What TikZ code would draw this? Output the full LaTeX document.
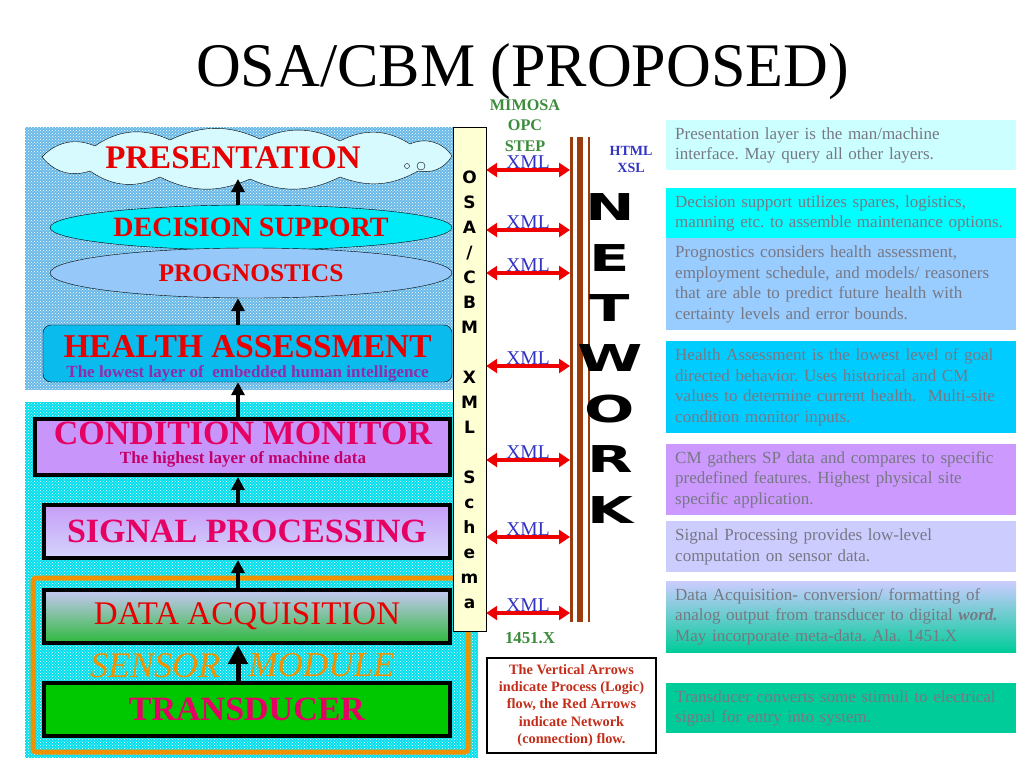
\documentclass[tikz,border=0pt]{standalone}
\usepackage{fontspec}
\setmainfont{Liberation Serif}
\newfontfamily\heavyfont{DejaVu Sans}
\usetikzlibrary{shapes.geometric,arrows.meta,patterns}
\frenchspacing
\newcommand{\fsz}[2]{\fontsize{#1}{#2}\selectfont}
\newcommand{\wideletter}[1]{\scalebox{1.6}[1]{#1}}
\definecolor{panelblue}{RGB}{105,185,232}
\definecolor{panelcyan}{RGB}{0,222,236}
\definecolor{cloudfill}{RGB}{215,250,255}
\definecolor{dsfill}{RGB}{0,235,250}
\definecolor{pgfill}{RGB}{150,200,250}
\definecolor{hafill}{RGB}{10,188,238}
\definecolor{cmfill}{RGB}{200,150,250}
\definecolor{sptop}{RGB}{198,158,248}
\definecolor{spbot}{RGB}{212,212,252}
\definecolor{datop}{RGB}{200,200,245}
\definecolor{dabot}{RGB}{45,185,60}
\definecolor{trfill}{RGB}{0,200,0}
\definecolor{labred}{RGB}{232,0,0}
\definecolor{labcrim}{RGB}{230,0,100}
\definecolor{hasub}{RGB}{150,40,170}
\definecolor{cmsub}{RGB}{195,0,105}
\definecolor{modorange}{RGB}{242,145,0}
\definecolor{barfill}{RGB}{255,255,212}
\definecolor{xmlred}{RGB}{238,0,0}
\definecolor{xmlblue}{RGB}{50,50,195}
\definecolor{stdgreen}{RGB}{60,140,60}
\definecolor{netbrown}{RGB}{155,60,15}
\definecolor{notered}{RGB}{195,45,25}
\definecolor{desctext}{RGB}{120,120,132}
\begin{document}
\begin{tikzpicture}[x=1pt,y=-1pt,
    flow/.style={line width=4pt,-{Triangle[width=13pt,length=13pt]}},
    bigflow/.style={line width=5pt,-{Triangle[width=19pt,length=19pt]}},
    xmlarr/.style={draw=xmlred,line width=4pt,{Triangle[width=14pt,length=11pt]}-{Triangle[width=14pt,length=11pt]}},
    xmltext/.style={text=xmlblue,font=\fsz{19.5}{19.5},inner sep=0pt},
    layer/.style={draw,line width=4pt,minimum width=406pt,minimum height=53pt,inner sep=0pt},
    bigtext/.style={font=\bfseries\fsz{34}{34}},
    descbox/.style={anchor=north west,text width=332pt,inner xsep=9pt,inner ysep=0pt,
      align=left,text=desctext,font=\fsz{17}{20.5}}]

    \useasboundingbox (0,0) rectangle (1024,768);
    \fill[white] (0,0) rectangle (1024,768);

    % patterned backgrounds
    \fill[panelblue] (25,127) rectangle (455,390);
    \fill[pattern=crosshatch dots,pattern color=white] (25,127) rectangle (455,390);
    \fill[panelcyan] (25,402) rectangle (478,758);
    \fill[pattern=crosshatch dots,pattern color=white] (25,402) rectangle (478,758);
    \draw[modorange,line width=5pt,rounded corners=3pt] (33,578) rectangle (468,752);

    \node[anchor=base,font=\fsz{62}{62}] (title) at (522.5,86) {OSA/CBM (PROPOSED)};

    % layers
    \draw[fill=cloudfill] (42,157) to[bend left=35] (95,146) to[bend left=30] (170,140)
      to[bend left=25] (260,139) to[bend left=25] (340,141) to[bend left=30] (410,144)
      to[bend left=40] (452,156) to[bend left=35] (418,171) to[bend left=25] (340,177)
      to[bend left=25] (250,179) to[bend left=25] (160,177) to[bend left=30] (90,171)
      to[bend left=35] cycle;
    \coordinate (Pb) at (238,179);
    \node[text=labred,font=\bfseries\fsz{33}{33}] (P) at (233,158) {PRESENTATION};
    \node[circle,draw,fill=cloudfill,minimum size=5pt,inner sep=0pt] (b1) at (407,166) {};
    \node[circle,draw,fill=cloudfill,minimum size=8pt,inner sep=0pt] (b2) at (421,166) {};

    \node[ellipse,draw,fill=dsfill,minimum width=402pt,minimum height=45pt,inner sep=0pt,
      text=labred,font=\bfseries\fsz{28}{28}] (D) at (251,227.5) {DECISION SUPPORT};
    \node[ellipse,draw,fill=pgfill,minimum width=402pt,minimum height=50pt,inner sep=0pt,
      text=labred,font=\bfseries\fsz{25.4}{25.4}] (G) at (251,273) {PROGNOSTICS};

    \node[draw,rounded corners=8pt,fill=hafill,minimum width=409pt,minimum height=57pt] (H) at (247.5,353.5) {};
    \node[text=labred,inner sep=0pt,font=\bfseries\fsz{33.3}{33.3}] (Ht) at (247.5,347) {HEALTH ASSESSMENT};
    \node[text=hasub,font=\bfseries\fsz{17}{17},inner sep=0pt] (Hs) at (247.5,373) {The lowest layer of~ embedded human intelligence};

    \node[layer,fill=cmfill,minimum width=415pt,minimum height=56pt] (C) at (242.5,447) {};
    \node[text=labcrim,bigtext,inner sep=0pt] (Ct) at (243,433) {CONDITION MONITOR};
    \node[text=cmsub,font=\bfseries\fsz{17}{17},inner sep=0pt] (Cs) at (243,459.5) {The highest layer of machine data};

    \node[layer,top color=sptop,bottom color=spbot,text=labcrim,bigtext] (S) at (247,531.5) {SIGNAL PROCESSING};
    \node[layer,top color=datop,bottom color=dabot,text=labred,font=\fsz{33}{33}] (A) at (247,616.5) {DATA ACQUISITION};
    \node[layer,fill=trfill,text=labcrim,bigtext] (T) at (247,709.5) {TRANSDUCER};

    \node[text=modorange,font=\itshape\fsz{36}{36}] (Sm) at (155,665.5) {SENSOR};
    \node[text=modorange,font=\itshape\fsz{35}{35}] (Mm) at (321.5,665.5) {MODULE};

    % process flow
    \coordinate (ax) at (238,0);
    \draw[flow] (D.north -| ax) -- (Pb);
    \draw[flow] (H.north -| ax) -- (G.south -| ax);
    \draw[flow] (C.north -| ax) -- (H.south -| ax);
    \draw[flow] (S.north -| ax) -- (C.south -| ax);
    \draw[flow] (A.north -| ax) -- (S.south -| ax);
    \draw[bigflow] (T.north -| ax) -- (A.south -| ax);

    % OSA/CBM bar
    \node[draw,fill=barfill,minimum width=33pt,minimum height=504pt,inner sep=0pt] (O) at (469.5,379) {};
    \node[align=center,font=\heavyfont\bfseries\fsz{17}{25},inner sep=0pt] (Ot) at (469.5,389.5)
      {O\\S\\A\\/\\C\\B\\M\\[25pt]X\\M\\L\\[25pt]S\\c\\h\\e\\m\\a};

    % network
    \draw[netbrown,line width=2.7pt] (571.5,137) -- (571.5,622);
    \draw[netbrown,line width=6pt] (580.3,137) -- (580.3,622);
    \draw[netbrown,line width=2.7pt] (589,137) -- (589,622);
    \node[align=center,font=\heavyfont\bfseries\fsz{37}{50.4},inner sep=0pt] (Nt) at (610,358.5)
      {\wideletter{N}\\\wideletter{E}\\\wideletter{T}\\\wideletter{W}\\\wideletter{O}\\\wideletter{R}\\\wideletter{K}};

    \node[align=center,text=stdgreen,inner sep=0pt,font=\bfseries\fsz{16.2}{20.5}] (std) at (525,125.5) {MIMOSA\\OPC\\STEP};
    \node[align=center,text=xmlblue,font=\bfseries\fsz{14}{17}] (web) at (631,159.5) {HTML\\XSL};
    \node[text=stdgreen,font=\bfseries\fsz{16.8}{16.8}] (ieee) at (530,638) {1451.X};

    % XML links
    \coordinate (x1) at (570,170);
    \coordinate (x2) at (570,230);
    \coordinate (x3) at (570,273);
    \coordinate (x4) at (570,366);
    \coordinate (x5) at (570,460);
    \coordinate (x6) at (570,537);
    \coordinate (x7) at (570,613);
    \node[xmltext] (m1) at (528,162) {XML};
    \node[xmltext] (m2) at (528,222) {XML};
    \node[xmltext] (m3) at (528,265) {XML};
    \node[xmltext] (m4) at (528,358) {XML};
    \node[xmltext] (m5) at (528,452) {XML};
    \node[xmltext] (m6) at (528,529) {XML};
    \node[xmltext] (m7) at (528,605) {XML};
    \draw[xmlarr] (O.east |- x1) -- (x1);
    \draw[xmlarr] (O.east |- x2) -- (x2);
    \draw[xmlarr] (O.east |- x3) -- (x3);
    \draw[xmlarr] (O.east |- x4) -- (x4);
    \draw[xmlarr] (O.east |- x5) -- (x5);
    \draw[xmlarr] (O.east |- x6) -- (x6);
    \draw[xmlarr] (O.east |- x7) -- (x7);

    \node[draw,line width=2pt,fill=white,minimum width=169pt,minimum height=95pt,align=center,
      text=notered,font=\bfseries\fsz{14.3}{17.3}] (note) at (571.5,705.5)
      {The Vertical Arrows\\indicate Process (Logic)\\flow, the Red Arrows\\indicate Network\\(connection) flow.};

    % descriptions
    \node[descbox,fill={rgb,255:red,204;green,255;blue,255},minimum height=50pt] (d1) at (666,120)
      {Presentation layer is the man/machine\\interface. May query all other layers.};
    \node[descbox,fill={rgb,255:red,0;green,255;blue,255},minimum height=50pt] (d2) at (666,188)
      {Decision support utilizes spares, logistics,\\manning etc. to assemble maintenance options.};
    \node[descbox,fill={rgb,255:red,153;green,204;blue,255},minimum height=92pt] (d3) at (666,238)
      {Prognostics considers health assessment,\\employment schedule, and models/ reasoners\\that are able to predict future health with\\certainty levels and error bounds.};
    \node[descbox,fill={rgb,255:red,0;green,204;blue,255},minimum height=92pt] (d4) at (666,341)
      {Health Assessment is the lowest level of goal\\directed behavior. Uses historical and CM\\values to determine current health.~ Multi-site\\condition monitor inputs.};
    \node[descbox,fill={rgb,255:red,204;green,153;blue,255},minimum height=71pt] (d5) at (666,444)
      {CM gathers SP data and compares to specific\\predefined features. Highest physical site\\specific application.};
    \node[descbox,fill={rgb,255:red,204;green,204;blue,255},minimum height=51pt] (d6) at (666,521)
      {Signal Processing provides low-level\\computation on sensor data.};
    \node[descbox,top color={rgb,255:red,204;green,204;blue,255},bottom color={rgb,255:red,0;green,204;blue,153},minimum height=71pt] (d7) at (666,581)
      {Data Acquisition- conversion/ formatting of\\analog output from transducer to digital \textbf{\textit{word.}}\\May incorporate meta-data. Ala. 1451.X};
    \node[descbox,fill={rgb,255:red,0;green,204;blue,153},minimum height=50pt] (d8) at (666,683)
      {Transducer converts some stimuli to electrical\\signal for entry into system.};

\end{tikzpicture}
\end{document}
